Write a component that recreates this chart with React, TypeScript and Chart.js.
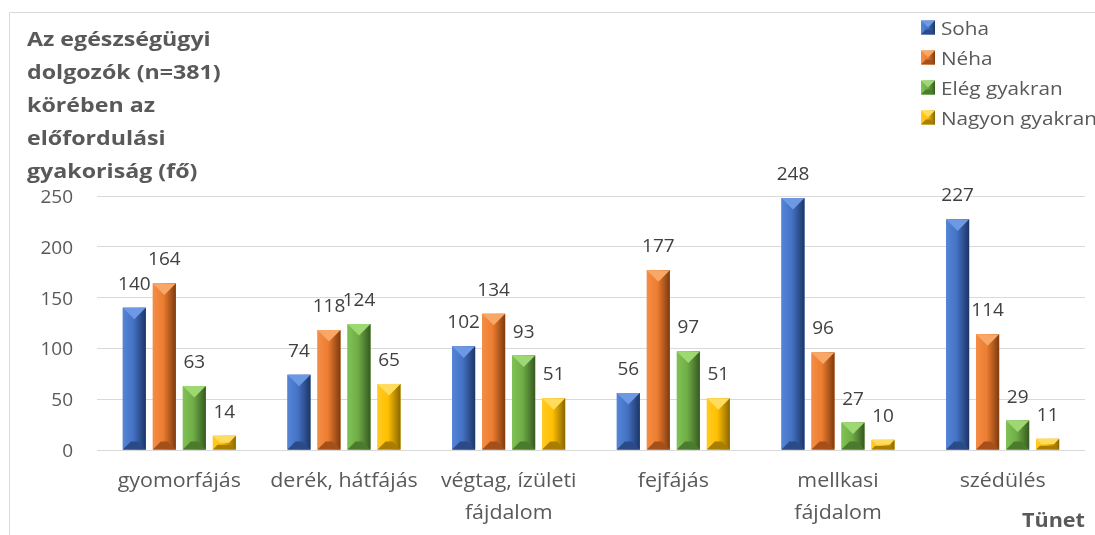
import React, { useEffect, useRef } from "react";
import { Chart, registerables } from "chart.js";

Chart.register(...registerables);

const CATEGORIES: string[][] = [
  ["gyomorfájás"],
  ["derék, hátfájás"],
  ["végtag, ízületi", "fájdalom"],
  ["fejfájás"],
  ["mellkasi", "fájdalom"],
  ["szédülés"],
];
const SERIES_LABELS = ["Soha", "Néha", "Elég gyakran", "Nagyon gyakran"];
const SOHA = [140, 74, 102, 56, 248, 227];
const NEHA = [164, 118, 134, 177, 96, 114];
const ELEG_GYAKRAN = [63, 124, 93, 97, 27, 29];
const NAGYON_GYAKRAN = [14, 65, 51, 51, 10, 11];
const Y_MIN = 0;
const Y_MAX = 250;
const Y_STEP = 50;
const TITLE_LINES = ["Az egészségügyi", "dolgozók (n=381)", "körében az", "előfordulási", "gyakoriság (fő)"];
const X_TITLE = "Tünet";

const FACES = [
  { main: "#4472C4", side: "#5585d8", light: "#6c98e4", dark: "#1c3566", bottom: "#2b4b88" },
  { main: "#ED7D31", side: "#f48d45", light: "#f8a766", dark: "#7e3a0e", bottom: "#a5501a" },
  { main: "#70AD47", side: "#80c254", light: "#9ed873", dark: "#355a1f", bottom: "#4b7b2c" },
  { main: "#FFC000", side: "#ffca22", light: "#ffdb5e", dark: "#8a6600", bottom: "#a87d00" },
];

const FONT = "'Open Sans', 'Noto Sans', sans-serif";
const TEXT = "#595959";
const LABEL = "#404040";
const GRID = "#d9d9d9";

function drawBevel(ctx: CanvasRenderingContext2D, L: number, T: number, R: number, B: number, c: any) {
  const w = R - L;
  const h = B - T;
  if (w <= 0 || h <= 0) return;
  const g = ctx.createLinearGradient(L, 0, R, 0);
  g.addColorStop(0, c.side);
  g.addColorStop(0.45, c.main);
  g.addColorStop(1, c.dark);
  ctx.fillStyle = g;
  ctx.fillRect(L, T, w, h);
  const dt = Math.min(w / 2, h * 0.5);
  ctx.fillStyle = c.light;
  ctx.beginPath();
  ctx.moveTo(L, T);
  ctx.lineTo(R, T);
  ctx.lineTo(R - dt, T + dt);
  ctx.lineTo(L + dt, T + dt);
  ctx.closePath();
  ctx.fill();
  const db = Math.min((w / 2) * 0.7, h * 0.35);
  ctx.fillStyle = c.bottom;
  ctx.beginPath();
  ctx.moveTo(L, B);
  ctx.lineTo(R, B);
  ctx.lineTo(R - db, B - db);
  ctx.lineTo(L + db, B - db);
  ctx.closePath();
  ctx.fill();
}

function text(
  ctx: CanvasRenderingContext2D,
  s: string,
  x: number,
  y: number,
  font: string,
  color: string,
  align: CanvasTextAlign,
  sx: number
) {
  ctx.save();
  ctx.translate(x, y);
  ctx.scale(sx, 1);
  ctx.font = font;
  ctx.fillStyle = color;
  ctx.textAlign = align;
  ctx.textBaseline = "alphabetic";
  ctx.fillText(s, 0, 0);
  ctx.restore();
}

const decorPlugin = {
  id: "decor",
  beforeDraw(chart: any) {
    const ctx = chart.ctx as CanvasRenderingContext2D;
    ctx.save();
    ctx.fillStyle = "#fff";
    ctx.fillRect(0, 0, chart.width, chart.height);
    ctx.strokeStyle = GRID;
    ctx.lineWidth = 1;
    ctx.beginPath();
    ctx.moveTo(9.5, chart.height);
    ctx.lineTo(9.5, 12.5);
    ctx.lineTo(chart.width, 12.5);
    ctx.stroke();
    ctx.restore();
  },
  afterDatasetsDraw(chart: any) {
    const ctx = chart.ctx as CanvasRenderingContext2D;
    chart.data.datasets.forEach((ds: any, di: number) => {
      const meta = chart.getDatasetMeta(di);
      meta.data.forEach((el: any, i: number) => {
        const p = el.getProps(["x", "y", "base", "width"], true);
        const L = p.x - p.width / 2;
        const R = p.x + p.width / 2;
        const T = Math.min(p.y, p.base);
        const B = Math.max(p.y, p.base);
        ctx.save();
        drawBevel(ctx, L, T, R, B, FACES[di]);
        ctx.restore();
        text(ctx, String(ds.data[i]), p.x, T - 18, `19px ${FONT}`, LABEL, "center", 1);
      });
    });
  },
  afterDraw(chart: any) {
    const ctx = chart.ctx as CanvasRenderingContext2D;
    const area = chart.chartArea;
    const xs = chart.scales.x;
    const ys = chart.scales.y;
    // y tick labels
    ys.ticks.forEach((t: any) => {
      const y = ys.getPixelForValue(t.value);
      text(ctx, String(t.value), area.left - 24, y + 7, `19px ${FONT}`, TEXT, "right", 1);
    });
    // x category labels
    (chart.data.labels as string[][]).forEach((lines, i) => {
      const x = xs.getPixelForTick(i);
      lines.forEach((ln, j) => {
        text(ctx, ln, x, area.bottom + 37 + j * 31.5, `20px ${FONT}`, TEXT, "center", 1.07);
      });
    });
    // title (y axis description)
    TITLE_LINES.forEach((ln, i) => {
      text(ctx, ln, 27, 46 + i * 33, `bold 20px ${FONT}`, TEXT, "left", 1.16);
    });
    // x axis title
    text(ctx, X_TITLE, area.right, 527, `bold 20px ${FONT}`, TEXT, "right", 1.08);
    // legend
    const lx = chart.width - 174;
    chart.data.datasets.forEach((ds: any, di: number) => {
      const cy = 27.5 + di * 30;
      ctx.save();
      drawBevel(ctx, lx, cy - 7, lx + 14, cy + 7, FACES[di]);
      ctx.restore();
      text(ctx, ds.label, lx + 20, cy + 7, `19px ${FONT}`, TEXT, "left", 1.09);
    });
  },
};

export default function App() {
  const ref = useRef<HTMLCanvasElement | null>(null);
  useEffect(() => {
    if (!ref.current) return;
    const series = [SOHA, NEHA, ELEG_GYAKRAN, NAGYON_GYAKRAN];
    const chart = new Chart(ref.current, {
      type: "bar",
      data: {
        labels: CATEGORIES,
        datasets: series.map((d, i) => ({
          label: SERIES_LABELS[i],
          data: d,
          backgroundColor: FACES[i].main,
          borderWidth: 0,
          categoryPercentage: 0.729,
          barPercentage: 0.767,
        })),
      },
      options: {
        animation: false,
        responsive: false,
        maintainAspectRatio: false,
        layout: { padding: { top: 196, right: 10, left: 27, bottom: 0 } },
        plugins: { legend: { display: false }, title: { display: false }, tooltip: { enabled: false } },
        scales: {
          x: {
            grid: { display: false, drawTicks: false },
            border: { display: false },
            ticks: { display: false, autoSkip: false, maxRotation: 0 },
            afterFit: (s: any) => {
              s.height = 85;
            },
          },
          y: {
            min: Y_MIN,
            max: Y_MAX,
            grid: { color: GRID, lineWidth: 1, drawTicks: false },
            border: { display: false },
            ticks: { display: false, stepSize: Y_STEP },
            afterFit: (s: any) => {
              s.width = 70;
            },
          },
        },
      },
      plugins: [decorPlugin],
    });
    return () => chart.destroy();
  }, []);
  return (
    <div style={{ position: "absolute", left: 0, top: 0, width: 1095, height: 535, background: "#fff" }}>
      <canvas ref={ref} width={1095} height={535} style={{ display: "block" }} />
    </div>
  );
}
